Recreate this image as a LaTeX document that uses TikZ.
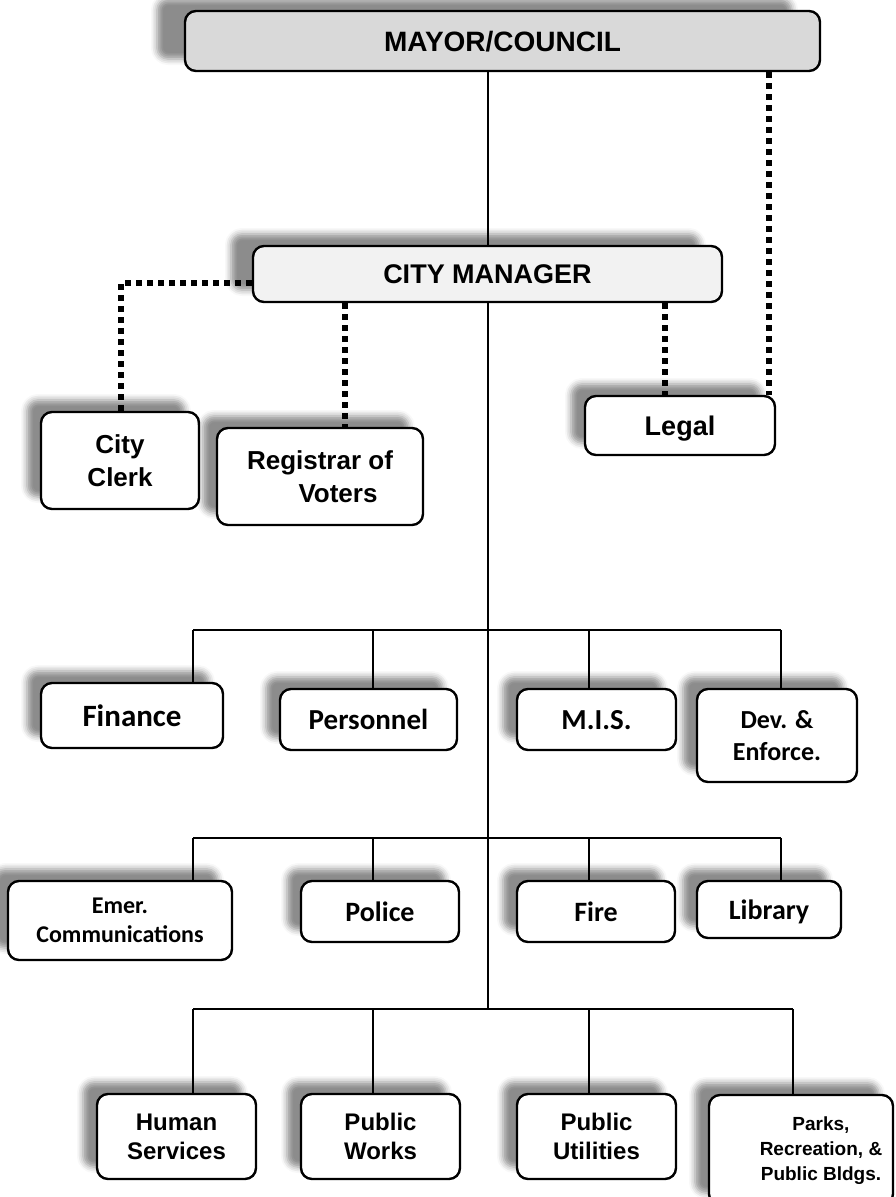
\documentclass[tikz,border=0pt]{standalone}
\usepackage{fontspec}
\setmainfont{Liberation Sans}
\newfontfamily\calfont{Carlito}
\usetikzlibrary{shadows.blur}
\definecolor{mayorgray}{HTML}{D9D9D9}
\definecolor{cmgray}{HTML}{F2F2F2}
\newcommand\fsz[2]{\fontsize{#1pt}{#2pt}\selectfont}
\begin{document}
\begin{tikzpicture}[x=1pt,y=-1pt]
\tikzset{
  orgbox/.style={draw=black, line width=2.4pt, rounded corners=11pt, fill=white,
    inner sep=0pt,
    blur shadow={shadow xshift=-#1pt, shadow yshift=12pt, shadow blur radius=6pt, shadow opacity=45}},
  orgbox/.default=14,
  oneline/.style={text depth=0pt},
  multi/.style={align=center},
  arialtxt/.style={font=\bfseries\fsz{#1}{33}},
  caltxt/.style={font=\calfont\bfseries\fsz{#1}{32}},
  link/.style={draw=black, line width=1.8pt},
  dotlink/.style={draw=black, line width=5.5pt, dash pattern=on 5.5pt off 5.5pt},
}
\useasboundingbox (0,0) rectangle (896,1197);

% top level
\node[orgbox=28, oneline, fill=mayorgray, minimum width=635pt, minimum height=60pt, arialtxt=28] (mayor) at (502.5,41) {MAYOR/COUNCIL};
\node[orgbox=22, oneline, fill=cmgray, minimum width=469pt, minimum height=56pt, arialtxt=27] (cm) at (487.5,274) {CITY MANAGER};

% staff
\node[orgbox, multi, minimum width=158pt, minimum height=97pt, arialtxt=26] (clerk) at (120,460.5) {City\\Clerk};
\node[orgbox, multi, minimum width=206pt, minimum height=97pt, arialtxt=26] (registrar) at (320,476.5) {Registrar of\\\hspace*{36pt}Voters};
\node[orgbox, oneline, minimum width=190pt, minimum height=59pt, arialtxt=27] (legal) at (680,425.5) {Legal};

% row 1
\node[orgbox, oneline, minimum width=182pt, minimum height=65pt, caltxt=31] (finance) at (132,715.5) {Finance};
\node[orgbox, oneline, minimum width=177pt, minimum height=61pt, caltxt=29] (personnel) at (368.5,719.5) {Personnel};
\node[orgbox, oneline, minimum width=159pt, minimum height=61pt, caltxt=29] (mis) at (596.5,719.5) {M.I.S.};
\node[orgbox, multi, minimum width=160pt, minimum height=93pt, caltxt=26] (dev) at (777,735.5) {Dev. \&\\Enforce.};

% row 2
\node[orgbox, multi, minimum width=224pt, minimum height=79pt, font=\calfont\bfseries\fsz{24}{29}] (emer) at (120,920.5) {Emer.\\Communications};
\node[orgbox, oneline, minimum width=158pt, minimum height=61pt, caltxt=28] (police) at (380,911.5) {Police};
\node[orgbox, oneline, minimum width=158pt, minimum height=61pt, caltxt=28] (fire) at (596,911.5) {Fire};
\node[orgbox, oneline, minimum width=144pt, minimum height=57pt, caltxt=28] (library) at (769,909.5) {Library};

% row 3
\node[orgbox, multi, minimum width=159pt, minimum height=85pt, font=\bfseries\fsz{24}{29}] (human) at (176.5,1136.5) {Human\\Services};
\node[orgbox, multi, minimum width=159pt, minimum height=85pt, font=\bfseries\fsz{24}{29}] (works) at (380.5,1136.5) {Public\\Works};
\node[orgbox, multi, minimum width=159pt, minimum height=85pt, font=\bfseries\fsz{24}{29}] (utilities) at (596.5,1136.5) {Public\\Utilities};
\node[orgbox, minimum width=184pt, minimum height=110pt, font=\bfseries\fsz{19}{25}] (parks) at (801,1150) {\hspace*{40pt}\begin{tabular}{@{}c@{}}Parks,\\Recreation, \&\\Public Bldgs.\end{tabular}};

% coordinates for connectors
\coordinate (tx) at (488,0);
\coordinate (b1a) at (193,630); \coordinate (b1b) at (373,630);
\coordinate (b1c) at (589,630); \coordinate (b1d) at (781,630);
\coordinate (b2a) at (193,838); \coordinate (b2b) at (373,838);
\coordinate (b2c) at (589,838); \coordinate (b2d) at (781,838);
\coordinate (b3a) at (193,1009); \coordinate (b3b) at (373,1009);
\coordinate (b3c) at (589,1009); \coordinate (b3d) at (793,1009);
\coordinate (b3t) at (488,1009);

% solid connectors
\draw[link] (mayor.south -| tx) -- (cm.north -| tx);
\draw[link] (cm.south -| tx) -- (b3t);
\draw[link] (b1a) -- (b1d);
\draw[link] (b2a) -- (b2d);
\draw[link] (b3a) -- (b3d);
\draw[link] (b1a) -- (b1a |- finance.north);
\draw[link] (b1b) -- (b1b |- personnel.north);
\draw[link] (b1c) -- (b1c |- mis.north);
\draw[link] (b1d) -- (b1d |- dev.north);
\draw[link] (b2a) -- (b2a |- emer.north);
\draw[link] (b2b) -- (b2b |- police.north);
\draw[link] (b2c) -- (b2c |- fire.north);
\draw[link] (b2d) -- (b2d |- library.north);
\draw[link] (b3a) -- (b3a |- human.north);
\draw[link] (b3b) -- (b3b |- works.north);
\draw[link] (b3c) -- (b3c |- utilities.north);
\draw[link] (b3d) -- (b3d |- parks.north);

% dotted connectors
\coordinate (ck) at (121,283);
\coordinate (rg) at (345,0);
\coordinate (lg1) at (665,0);
\coordinate (lg2) at (769,0);
\draw[dotlink] (cm.west |- ck) -- (ck) -- (clerk.north -| ck);
\draw[dotlink] (cm.south -| rg) -- (registrar.north -| rg);
\draw[dotlink] (cm.south -| lg1) -- (legal.north -| lg1);
\draw[dotlink] (mayor.south -| lg2) -- (legal.north -| lg2);
\end{tikzpicture}
\end{document}
